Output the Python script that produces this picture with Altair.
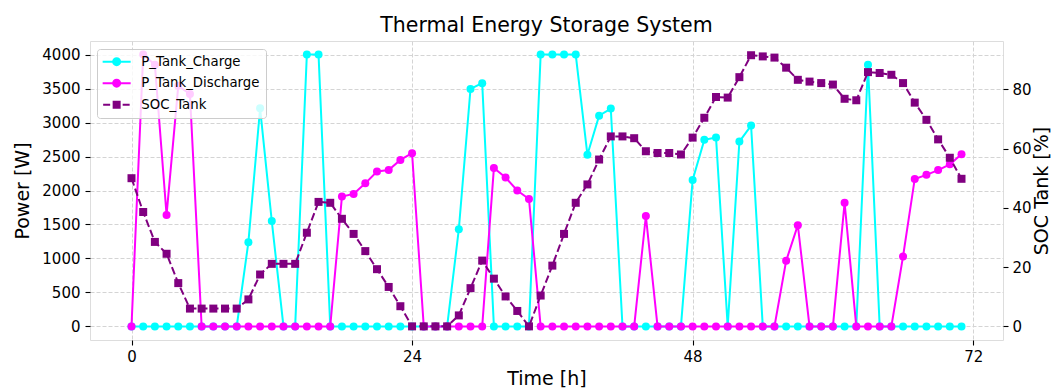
import altair as alt
import pandas as pd

FONT = "DejaVu Sans"

hours = list(range(72))
p_charge = [0, 0, 0, 0, 0, 0, 0, 0, 0, 0,
            1240, 3210, 1550, 0, 0, 4000, 4000, 0, 0, 0,
            0, 0, 0, 0, 0, 0, 0, 0, 1430, 3495,
            3580, 0, 0, 0, 0, 4000, 4000, 4000, 4000, 2525,
            3100, 3205, 0, 0, 0, 0, 0, 0, 2155, 2745,
            2780, 0, 2720, 2955, 0, 0, 0, 0, 0, 0,
            0, 0, 0, 3850, 0, 0, 0, 0, 0, 0,
            0, 0]
p_discharge = [0, 4000, 3850, 1640, 3540, 3420, 0, 0, 0, 0,
               0, 0, 0, 0, 0, 0, 0, 0, 1910, 1950,
               2105, 2280, 2300, 2450, 2550, 0, 0, 0, 0, 0,
               0, 2330, 2190, 2000, 1875, 0, 0, 0, 0, 0,
               0, 0, 0, 0, 1625, 0, 0, 0, 0, 0,
               0, 0, 0, 0, 0, 0, 965, 1490, 0, 0,
               0, 1820, 0, 0, 0, 0, 1030, 2170, 2230, 2300,
               2385, 2535]
soc_tank = [50.0, 38.6, 28.5, 24.5, 14.6, 6.0, 6.0, 6.0, 6.0, 6.0,
            9.1, 17.5, 21.1, 21.1, 21.1, 31.6, 42.0, 41.7, 36.3, 31.2,
            25.4, 19.3, 13.3, 6.8, 0.0, 0.0, 0.0, 0.0, 3.7, 12.9,
            22.2, 16.1, 10.1, 5.2, 0.0, 10.4, 20.5, 31.2, 41.7, 47.9,
            56.3, 64.1, 64.1, 63.5, 59.1, 58.5, 58.5, 58.0, 63.7, 70.4,
            77.4, 77.2, 84.1, 91.5, 91.1, 90.7, 87.3, 83.2, 82.6, 82.1,
            81.6, 76.8, 76.3, 85.8, 85.5, 84.9, 82.1, 75.5, 69.7, 63.1,
            56.9, 49.8]

series_names = ["P_Tank_Charge", "P_Tank_Discharge", "SOC_Tank"]
series_colors = ["#00ffff", "#ff00ff", "#800080"]
legend_paths = [
    "M-2.8,0L2.8,0M0.7,0A0.7,0.7,0,1,1,-0.7,0A0.7,0.7,0,1,1,0.7,0Z",
    "M-2.8,0L2.8,0M0.7,0A0.7,0.7,0,1,1,-0.7,0A0.7,0.7,0,1,1,0.7,0Z",
    "M-2.7,0L-1.3,0M1.2,0L2.6,0M-0.6,-0.6L0.6,-0.6L0.6,0.6L-0.6,0.6Z",
]
time_ticks = [0, 24, 48, 72]
power_ticks = [0, 500, 1000, 1500, 2000, 2500, 3000, 3500, 4000]
soc_ticks = [0, 20, 40, 60, 80]

df = pd.DataFrame({"hour": hours, "charge": p_charge,
                   "discharge": p_discharge, "soc": soc_tank})
leg_df = pd.DataFrame({"series": series_names})

GRID = dict(grid=True, gridColor="#d4d4d4", gridDash=[4, 2], gridWidth=1)
TICK = dict(tickColor="black", tickSize=5, tickWidth=1.1, domain=False,
            labelFont=FONT, labelFontSize=15, labelColor="black",
            titleFont=FONT, titleFontSize=19, titleFontWeight="normal",
            titleColor="black", labelFlush=False)

x_enc = alt.X("hour:Q",
              scale=alt.Scale(domain=[-3.55, 74.55], nice=False, zero=False),
              axis=alt.Axis(values=time_ticks, title="Time [h]", labelPadding=4,
                            titlePadding=5, **GRID, **TICK))

y_left_scale = alt.Scale(domain=[-200, 4200], nice=False, zero=False)
y_left_axis = alt.Axis(values=power_ticks, title="Power [W]", orient="left",
                       format="d", labelPadding=5, titlePadding=9, **GRID, **TICK)


def power_layers(field, color):
    y = alt.Y(f"{field}:Q", scale=y_left_scale, axis=y_left_axis)
    line = alt.Chart(df).mark_line(color=color, strokeWidth=2).encode(x=x_enc, y=y)
    pts = alt.Chart(df).mark_point(shape="circle", filled=True, size=64,
                                   color=color, opacity=1).encode(x=x_enc, y=y)
    return [line, pts]


legend_obj = alt.Legend(title=None, orient="none", legendX=7, legendY=8, padding=6,
                        fillColor="rgba(255,255,255,0.8)", strokeColor="#cccccc",
                        cornerRadius=3, labelFont=FONT, labelFontSize=13.3,
                        labelColor="black", symbolSize=100, symbolStrokeWidth=2,
                        symbolOffset=7, labelOffset=18, rowPadding=5.5)

leg = alt.Chart(leg_df).transform_filter("false").mark_point(
    filled=True, opacity=1, strokeWidth=2).encode(
    fill=alt.Fill("series:N", scale=alt.Scale(domain=series_names, range=series_colors),
                  legend=legend_obj),
    stroke=alt.Stroke("series:N", scale=alt.Scale(domain=series_names, range=series_colors),
                      legend=legend_obj),
    shape=alt.Shape("series:N", scale=alt.Scale(domain=series_names, range=legend_paths),
                    legend=legend_obj),
)

left = alt.layer(*power_layers("charge", series_colors[0]),
                 *power_layers("discharge", series_colors[1]), leg)

soc_y = alt.Y("soc:Q", scale=alt.Scale(domain=[-4.6, 96.3], nice=False, zero=False),
              axis=alt.Axis(orient="right", values=soc_ticks, title="SOC Tank [%]",
                            grid=False, labelPadding=4, titlePadding=1, titleAngle=270,
                            titleBaseline="top", **TICK))
soc_line = alt.Chart(df).mark_line(color=series_colors[2], strokeWidth=2,
                                   strokeDash=[7.7, 3.3]).encode(x=x_enc, y=soc_y)
soc_pts = alt.Chart(df).mark_point(shape="square", filled=True, size=64,
                                   color=series_colors[2], opacity=1).encode(x=x_enc, y=soc_y)
right = alt.layer(soc_line, soc_pts)

chart = alt.layer(left, right).resolve_scale(y="independent").properties(
    width=913, height=299,
    title=alt.Title("Thermal Energy Storage System", font=FONT, fontSize=20.5,
                    fontWeight="normal", color="black", offset=5, anchor="middle"),
    autosize=alt.AutoSizeParams(type="none"),
    padding={"left": 90, "top": 41, "right": 49, "bottom": 50},
).configure_view(stroke="black", strokeWidth=1.1).configure(background="white")

chart.save("out.html", embed_options={"renderer": "svg", "actions": False})
